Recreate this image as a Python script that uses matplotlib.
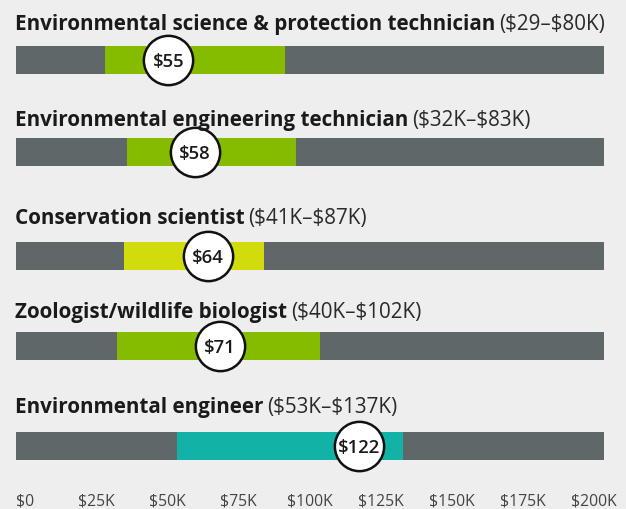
import matplotlib.pyplot as plt

plt.rcParams['font.family'] = ['Open Sans', 'DejaVu Sans']

# Data (salary in $K)
jobs = ['Environmental science & protection technician',
        'Environmental engineering technician',
        'Conservation scientist',
        'Zoologist/wildlife biologist',
        'Environmental engineer']
range_text = ['($29–$80K)', '($32K–$83K)', '($41K–$87K)',
              '($40K–$102K)', '($53K–$137K)']
range_low = [30.4, 37.8, 36.9, 34.4, 54.6]
range_high = [91.6, 95.1, 84.5, 103.3, 131.7]
median_pos = [51.8, 60.8, 65.4, 69.3, 116.7]
median_labels = ['$55', '$58', '$64', '$71', '$122']
tick_vals = [0, 25, 50, 75, 100, 125, 150, 175, 200]
tick_labels = ['$0', '$25K', '$50K', '$75K', '$100K', '$125K', '$150K', '$175K', '$200K']

# layout (pixels from top)
title_y = [30, 126, 224, 318, 413]
bar_y = [61, 153, 257, 347, 447]
bar_h = 28

bg = '#edeeed'
bar_gray = '#5f6769'
seg_colors = ['#86bc00', '#86bc00', '#d2dc0c', '#86bc00', '#13b2a7']

W, H = 626, 510
fig = plt.figure(figsize=(W / 100, H / 100), dpi=100, facecolor=bg)
ax = fig.add_axes([16 / W, 0, 588 / W, 1])
ax.set_xlim(0, 200)
ax.set_ylim(H, 0)
ax.axis('off')

ax.barh(bar_y, 200, left=0, height=bar_h, color=bar_gray)
ax.barh(bar_y, [h - l for l, h in zip(range_low, range_high)], left=range_low,
        height=bar_h, color=seg_colors)
ax.scatter(median_pos, bar_y, s=1260, color='white', edgecolors='#111111',
           linewidths=1.8, zorder=3)
for x, y, lab in zip(median_pos, bar_y, median_labels):
    ax.text(x, y + 1, lab, ha='center', va='center', fontsize=13.3,
            fontweight='semibold', color='#1a1a1a', zorder=4, parse_math=False)

fig.canvas.draw()
r = fig.canvas.get_renderer()
inv = ax.transData.inverted()
for name, rng, y in zip(jobs, range_text, title_y):
    t = ax.text(-0.3, y, name, fontsize=14.9, fontweight='bold',
                color='#1a1a1a', va='baseline', ha='left')
    bb = t.get_window_extent(renderer=r)
    x_end = inv.transform((bb.x1, bb.y0))[0]
    ax.text(x_end + 1.3, y, rng, fontsize=14.9, color='#2a2a2a',
            va='baseline', ha='left', parse_math=False)

# tick labels on their own strip
lab_ax = fig.add_axes([25 / W, 0, 569 / W, 1])
lab_ax.set_xlim(0, 200)
lab_ax.set_ylim(H, 0)
lab_ax.axis('off')
for v, lab in zip(tick_vals, tick_labels):
    lab_ax.text(v, 506, lab, ha='center', va='baseline', fontsize=11.3,
                color='#444444', parse_math=False)

plt.savefig('out.png', dpi=100, facecolor=bg)
